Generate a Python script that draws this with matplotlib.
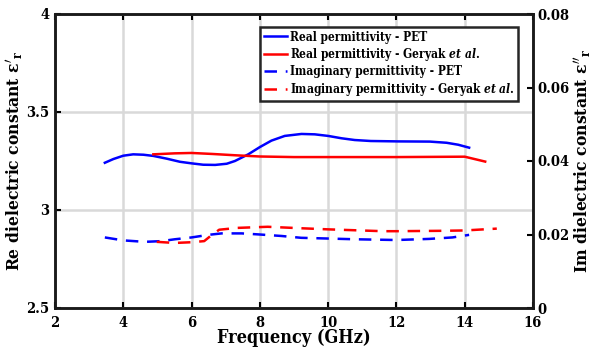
import matplotlib
matplotlib.use("Agg")
import matplotlib.pyplot as plt

# Real permittivity - PET (left axis)
re_pet_f = [3.46, 3.71, 4.0, 4.29, 4.59, 4.88, 5.27, 5.66, 6.0, 6.34, 6.69, 7.03, 7.27, 7.66, 8.0, 8.34, 8.73,
            9.22, 9.61, 10.0, 10.39, 10.78, 11.25, 12.05, 12.98, 13.47, 13.81, 14.13]
re_pet_v = [3.241, 3.260, 3.277, 3.284, 3.282, 3.276, 3.262, 3.246, 3.238, 3.231, 3.230, 3.236, 3.250, 3.284, 3.321,
            3.354, 3.378, 3.388, 3.386, 3.378, 3.366, 3.357, 3.352, 3.350, 3.349, 3.343, 3.333, 3.318]

# Real permittivity - Geryak et al. (left axis)
re_ger_f = [4.88, 5.5, 6.0, 6.6, 7.3, 8.0, 9.0, 10.0, 12.0, 14.0, 14.6]
re_ger_v = [3.284, 3.289, 3.291, 3.286, 3.279, 3.273, 3.270, 3.270, 3.270, 3.272, 3.247]

# Imaginary permittivity - PET (right axis)
im_pet_f = [3.46, 4.0, 4.63, 5.12, 5.51, 6.0, 6.49, 6.88, 7.47, 8.0, 8.63, 9.21, 10.0, 10.8, 12.0, 12.96, 13.64, 14.13]
im_pet_v = [0.0192, 0.0184, 0.0180, 0.0182, 0.0187, 0.0192, 0.0199, 0.0203, 0.0203, 0.0200, 0.0196, 0.0191, 0.0189,
            0.0187, 0.0185, 0.0188, 0.0192, 0.0199]

# Imaginary permittivity - Geryak et al. (right axis)
im_ger_f = [4.98, 5.51, 6.0, 6.37, 6.57, 6.81, 7.35, 8.23, 9.21, 10.0, 11.6, 12.0, 13.28, 14.0, 14.94]
im_ger_v = [0.0180, 0.0177, 0.0179, 0.0182, 0.0197, 0.0213, 0.0218, 0.0221, 0.0217, 0.0214, 0.0209, 0.0209, 0.0210,
            0.0211, 0.0216]

labels = ["Real permittivity - PET",
          "Real permittivity - Geryak $\\mathbf{\\it{et\\ al.}}$",
          "Imaginary permittivity - PET",
          "Imaginary permittivity - Geryak $\\mathbf{\\it{et\\ al.}}$"]

x_ticks = [2, 4, 6, 8, 10, 12, 14, 16]
yl_ticks = [2.5, 3, 3.5, 4]
yl_labels = ['2.5', '3', '3.5', '4']
yr_ticks = [0, 0.02, 0.04, 0.06, 0.08]
yr_labels = ['0', '0.02', '0.04', '0.06', '0.08']

plt.rcParams['font.family'] = ['DejaVu Serif']
plt.rcParams['font.weight'] = 'bold'
plt.rcParams['font.stretch'] = 'condensed'
plt.rcParams['mathtext.fontset'] = 'dejavuserif'

fig = plt.figure(figsize=(5.92, 3.5), dpi=100)
ax = fig.add_axes([0.0929, 0.12, 0.8074, 0.84])
ax2 = ax.twinx()

lw = 1.8
l1, = ax.plot(re_pet_f, re_pet_v, color='#0000ff', lw=lw)
l2, = ax.plot(re_ger_f, re_ger_v, color='#ff0000', lw=lw)
l3, = ax2.plot(im_pet_f, im_pet_v, color='#0000ff', lw=lw, ls=(0, (5, 3.5)))
l4, = ax2.plot(im_ger_f, im_ger_v, color='#ff0000', lw=lw, ls=(0, (5, 3.5)))

ax.set_xlim(2, 16)
ax.set_ylim(2.5, 4)
ax2.set_ylim(0, 0.08)
ax.set_xticks(x_ticks)
ax.set_yticks(yl_ticks)
ax.set_yticklabels(yl_labels)
ax2.set_yticks(yr_ticks)
ax2.set_yticklabels(yr_labels)

ax.grid(True, color='#d9d9d9', lw=1.8)
ax.set_axisbelow(True)

for a in (ax, ax2):
    for s in a.spines.values():
        s.set_linewidth(1.8)
        s.set_color('#1a1a1a')
ax.tick_params(axis='both', direction='in', length=4, width=1.5, labelsize=10.5, top=True)
ax.tick_params(axis='x', pad=6)
ax.tick_params(axis='y', right=False, pad=4)
ax2.tick_params(axis='y', direction='in', length=4, width=1.5, labelsize=10.5, pad=3)

for t in ax.get_xticklabels() + ax.get_yticklabels() + ax2.get_yticklabels():
    t.set_fontweight('bold')

ax.set_xlabel('Frequency (GHz)', fontsize=13, fontweight='bold', labelpad=-1)
ax.set_ylabel("Re dielectric constant $\\mathbf{\\epsilon'_r}$", fontsize=12.5, fontweight='bold', labelpad=1)
ax2.set_ylabel("Im dielectric constant $\\mathbf{\\epsilon''_r}$", fontsize=12.5, fontweight='bold', rotation=90,
               labelpad=2)

leg = ax2.legend([l1, l2, l3, l4], labels, loc='upper right', bbox_to_anchor=(0.969, 0.956),
                 borderaxespad=0, handlelength=2.0, handletextpad=0.2,
                 labelspacing=0.2, borderpad=0.3, fancybox=False, framealpha=1,
                 edgecolor='#262626', prop={'size': 8.6, 'weight': 'bold', 'stretch': 'condensed'})
leg.get_frame().set_linewidth(1.8)

fig.savefig('out.png', dpi=100)
